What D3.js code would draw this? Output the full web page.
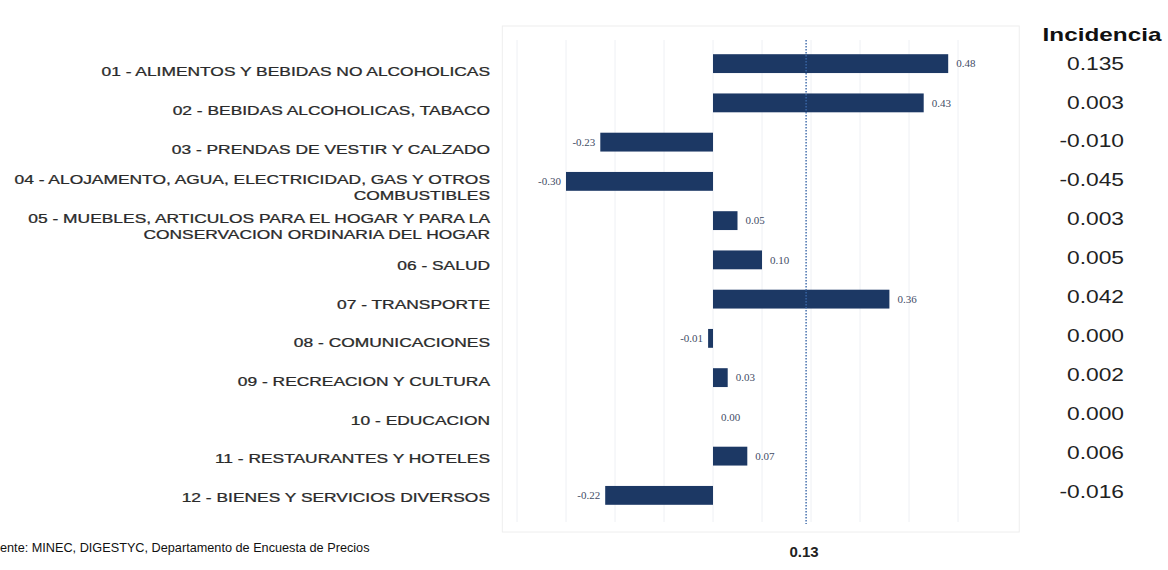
<!DOCTYPE html>
<html>
<head>
<meta charset="utf-8">
<title>Incidencia por division</title>
<script src="https://cdn.jsdelivr.net/npm/d3@7"></script>
<style>
  body { margin: 0; background: #fff; }
  svg { display: block; font-family: Arial, "Liberation Sans", sans-serif; }
</style>
</head>
<body>
<script>
// divisions (label lines), variation values and incidence column
var categories = [
  ["01 - ALIMENTOS Y BEBIDAS NO ALCOHOLICAS"],
  ["02 - BEBIDAS ALCOHOLICAS, TABACO"],
  ["03 - PRENDAS DE VESTIR Y CALZADO"],
  ["04 - ALOJAMENTO, AGUA, ELECTRICIDAD, GAS Y OTROS", "COMBUSTIBLES"],
  ["05 - MUEBLES, ARTICULOS PARA EL HOGAR Y PARA LA", "CONSERVACION ORDINARIA DEL HOGAR"],
  ["06 - SALUD"],
  ["07 - TRANSPORTE"],
  ["08 - COMUNICACIONES"],
  ["09 - RECREACION Y CULTURA"],
  ["10 - EDUCACION"],
  ["11 - RESTAURANTES Y HOTELES"],
  ["12 - BIENES Y SERVICIOS DIVERSOS"]
];
var values = [0.48, 0.43, -0.23, -0.30, 0.05, 0.10, 0.36, -0.01, 0.03, 0.00, 0.07, -0.22];
var incidencia = ["0.135", "0.003", "-0.010", "-0.045", "0.003", "0.005", "0.042", "0.000", "0.002", "0.000", "0.006", "-0.016"];
var refValue = 0.19;
var refLabel = "0.13";
var fuente = "Fuente: MINEC, DIGESTYC, Departamento de Encuesta de Precios";

var width = 1168, height = 570;
var ids = d3.range(values.length);

var svg = d3.select("body").append("svg")
    .attr("width", width)
    .attr("height", height);

var x = d3.scaleLinear().domain([-0.4, 0.5]).range([517, 958]);
var y = d3.scaleBand().domain(ids).range([44, 515]).paddingInner(0.52).paddingOuter(0.26);
var yLabel = d3.scalePoint().domain(ids).range([72, 498]);
var yInc = d3.scalePoint().domain(ids).range([63, 491]);

// plot frame
svg.append("rect")
    .attr("x", x(-0.43)).attr("y", 26)
    .attr("width", x(0.625) - x(-0.43)).attr("height", 506)
    .attr("fill", "none").attr("stroke", "#eeeeee");

// gridlines
svg.append("g")
    .selectAll("line")
    .data(d3.range(-4, 6).map(function (d) { return d / 10; }))
    .join("line")
    .attr("x1", function (d) { return x(d); })
    .attr("x2", function (d) { return x(d); })
    .attr("y1", 40).attr("y2", 522)
    .attr("stroke", "#eef0f4")
    .attr("stroke-width", 1);

// bars
svg.append("g")
    .selectAll("rect")
    .data(ids)
    .join("rect")
    .attr("x", function (i) { return x(Math.min(0, values[i])); })
    .attr("y", function (i) { return y(i); })
    .attr("width", function (i) { return Math.abs(x(values[i]) - x(0)); })
    .attr("height", y.bandwidth())
    .attr("fill", "#1c3864");

// reference dotted line
svg.append("line")
    .attr("x1", x(refValue)).attr("x2", x(refValue))
    .attr("y1", 40).attr("y2", 524)
    .attr("stroke", "#3a67a8")
    .attr("stroke-width", 1.4)
    .attr("stroke-dasharray", "1.5,1.5");

// value labels
svg.append("g")
    .selectAll("text")
    .data(ids)
    .join("text")
    .attr("x", function (i) { return values[i] < 0 ? x(values[i]) - 5 : x(values[i]) + 8; })
    .attr("y", function (i) { return y(i) + y.bandwidth() / 2; })
    .attr("dy", "0.35em")
    .attr("text-anchor", function (i) { return values[i] < 0 ? "end" : "start"; })
    .attr("font-family", "'Liberation Serif', 'DejaVu Serif', serif")
    .attr("font-size", 11)
    .attr("fill", "#3f4c66")
    .text(function (i) { return values[i].toFixed(2); });

// category labels (stretched sideways like the source)
var labels = svg.append("g")
    .selectAll("text")
    .data(ids)
    .join("text")
    .attr("transform", function (i) {
        var off = (categories[i].length - 1) * 8;
        return "translate(490," + (yLabel(i) - off) + ") scale(1.45,1)";
    })
    .attr("text-anchor", "end")
    .attr("font-size", 12)
    .attr("fill", "#2a2a2a")
    .attr("stroke", "#2a2a2a")
    .attr("stroke-width", 0.25);

labels.selectAll("tspan")
    .data(function (i) { return categories[i]; })
    .join("tspan")
    .attr("x", 0)
    .attr("dy", function (d, k) { return k === 0 ? "0.35em" : "16"; })
    .text(function (d) { return d; });

// incidencia column
svg.append("text")
    .attr("transform", "translate(1102,41) scale(1.35,1)")
    .attr("text-anchor", "middle")
    .attr("font-size", 18)
    .attr("font-weight", "bold")
    .attr("fill", "#111")
    .text("Incidencia");

svg.append("g")
    .selectAll("text")
    .data(ids)
    .join("text")
    .attr("transform", function (i) { return "translate(1124," + yInc(i) + ") scale(1.2,1)"; })
    .attr("dy", "0.35em")
    .attr("text-anchor", "end")
    .attr("font-size", 19)
    .attr("fill", "#222")
    .text(function (i) { return incidencia[i]; });

// total under the reference line
svg.append("text")
    .attr("x", x(refValue) - 2)
    .attr("y", 557)
    .attr("text-anchor", "middle")
    .attr("font-size", 15)
    .attr("font-weight", "bold")
    .attr("fill", "#222")
    .text(refLabel);

// source note, starts left of the page edge as in the source
var note = svg.append("text")
    .attr("y", 552)
    .attr("font-size", 12.7)
    .attr("fill", "#111")
    .text(fuente);
var cut = svg.append("text").attr("font-size", 12.7).text("Fu");
var cutW = cut.node().getComputedTextLength();
cut.remove();
note.attr("x", -cutW);
</script>
</body>
</html>
